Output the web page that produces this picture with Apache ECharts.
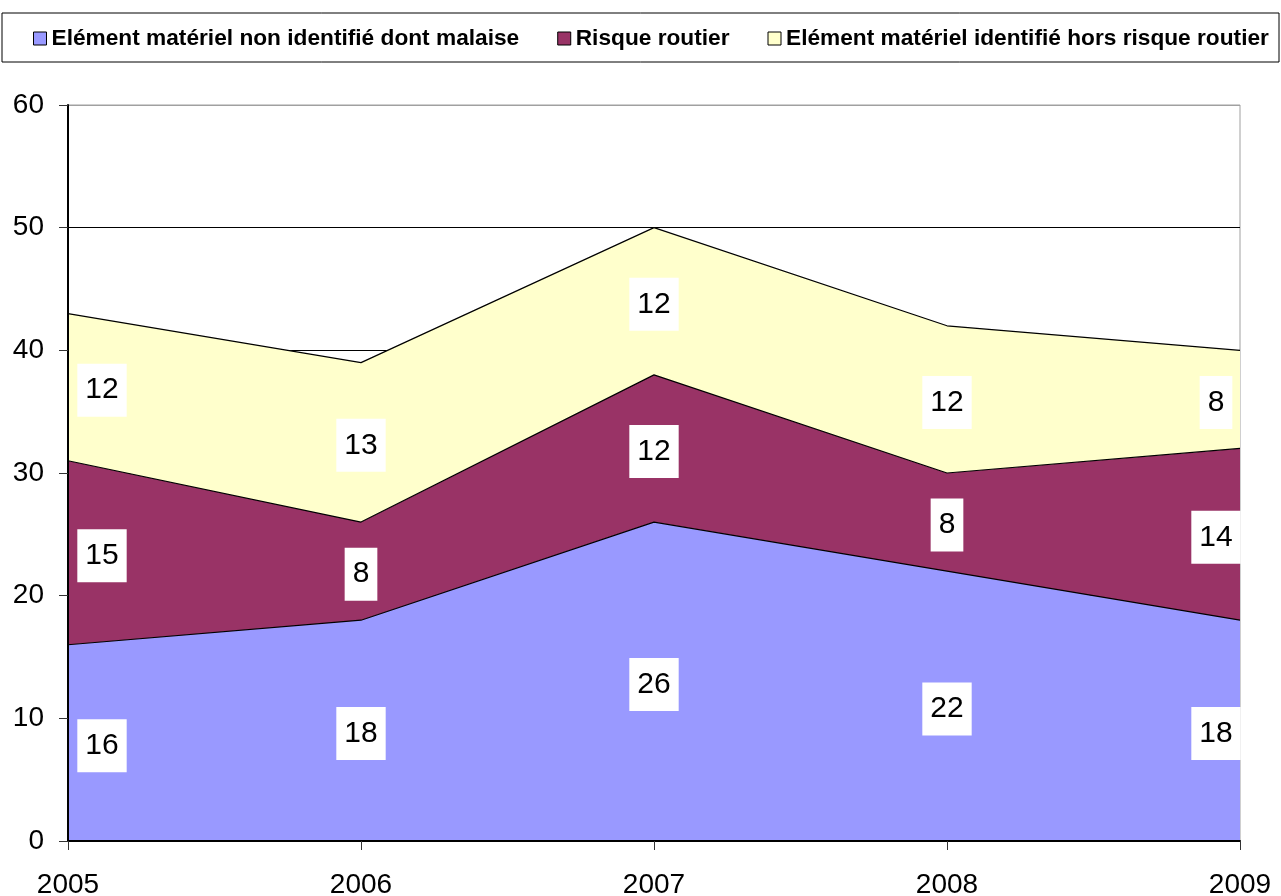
<!DOCTYPE html>
<html>
<head>
<meta charset="utf-8">
<script src="https://cdn.jsdelivr.net/npm/echarts@6/dist/echarts.min.js"></script>
<style>
  html, body { margin: 0; padding: 0; background: #fff; }
  #chart { width: 1281px; height: 896px; }
</style>
</head>
<body>
<div id="chart"></div>
<script>
// années
const years = ['2005', '2006', '2007', '2008', '2009'];
// séries (empilées)
const seriesNames = [
  'Elément matériel non identifié dont malaise',
  'Risque routier',
  'Elément matériel identifié hors risque routier'
];
const nonIdentifie = [16, 18, 26, 22, 18];
const risqueRoutier = [15, 8, 12, 8, 14];
const identifie = [12, 13, 12, 12, 8];
const yTicks = [0, 10, 20, 30, 40, 50, 60];

const fills = ['#9999FF', '#993366', '#FFFFCC'];
const font = '"Liberation Sans", Arial, sans-serif';

const chart = echarts.init(document.getElementById('chart'));

const values = [nonIdentifie, risqueRoutier, identifie];

// aires empilées
const areaSeries = values.map((vals, k) => ({
  name: seriesNames[k],
  type: 'line',
  stack: 'total',
  data: vals,
  symbol: 'none',
  itemStyle: { color: fills[k] },
  lineStyle: { color: '#000', width: 1.2 },
  areaStyle: { color: fills[k], opacity: 1 },
  z: 2
}));

// étiquettes au milieu de chaque bande
const labelSeries = values.map((vals, k) => ({
  name: 'lbl' + k,
  type: 'scatter',
  symbolSize: 0,
  silent: true,
  z: 10,
  itemStyle: { opacity: 1 },
  data: vals.map((v, i) => {
    let below = 0;
    for (let j = 0; j < k; j++) below += values[j][i];
    let off = [0, 3];
    if (i === 0) off = [34, 3];
    if (i === vals.length - 1) off = [-24, 3];
    return { value: [i, below + v / 2], raw: v, label: { offset: off } };
  }),
  label: {
    show: true,
    position: 'inside',
    formatter: p => String(p.data.raw),
    color: '#000',
    fontFamily: font,
    fontSize: 30,
    backgroundColor: '#fff',
    padding: [13, 8, 10, 8]
  }
}));

const option = {
  backgroundColor: '#fff',
  animation: false,
  graphic: [{
    type: 'rect',
    shape: { x: 2, y: 13, width: 1277, height: 49 },
    style: { fill: 'none', stroke: '#000', lineWidth: 1 },
    z: 100
  }],
  legend: {
    data: seriesNames,
    left: 33,
    top: 27,
    padding: 0,
    icon: 'rect',
    itemWidth: 13,
    itemHeight: 13,
    itemGap: 38,
    itemStyle: { borderColor: '#000', borderWidth: 1 },
    textStyle: { fontFamily: font, fontSize: 22.7, fontWeight: 'bold', color: '#000' }
  },
  grid: {
    left: 68, right: 41, top: 105, bottom: 55,
    outerBoundsMode: 'none',
    containLabel: false,
    show: true, borderColor: '#A0A0A0', borderWidth: 1
  },
  xAxis: {
    type: 'category',
    data: years,
    boundaryGap: false,
    z: 20,
    axisLine: { lineStyle: { color: '#000', width: 2 } },
    axisTick: { show: true, length: 9, lineStyle: { color: '#333' } },
    axisLabel: { fontFamily: font, fontSize: 28, color: '#000', margin: 30 },
    splitLine: { show: false }
  },
  yAxis: [{
    // lignes de grille seulement, derrière les aires
    type: 'value',
    min: yTicks[0],
    max: yTicks[yTicks.length - 1],
    interval: 10,
    z: 0,
    axisLine: { show: false },
    axisTick: { show: false },
    axisLabel: { show: false },
    splitLine: { show: true, lineStyle: { color: ['#000', '#000', '#000', '#000', '#000', '#000', '#A0A0A0'], width: 1 } }
  }, {
    // axe, graduations et libellés au-dessus
    type: 'value',
    position: 'left',
    min: yTicks[0],
    max: yTicks[yTicks.length - 1],
    interval: 10,
    z: 20,
    axisLine: { show: true, lineStyle: { color: '#000', width: 2 } },
    axisTick: { show: true, length: 9, lineStyle: { color: '#333' } },
    axisLabel: { fontFamily: font, fontSize: 28, color: '#000', margin: 24 },
    splitLine: { show: false }
  }],
  series: areaSeries.concat(labelSeries)
};

chart.setOption(option);
</script>
</body>
</html>
